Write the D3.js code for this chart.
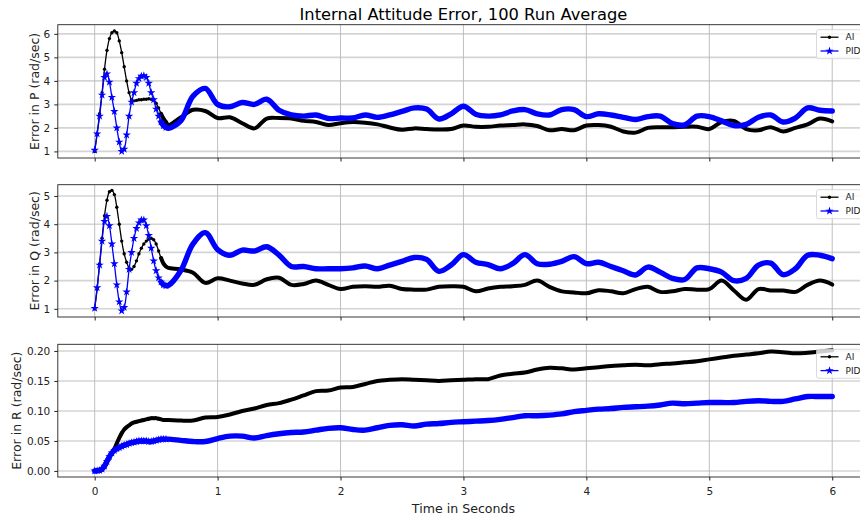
<!DOCTYPE html>
<html lang="en">
<head>
<meta charset="utf-8">
<script src="https://d3js.org/d3.v7.min.js"></script>
<style>
  body { margin: 0; background: #fff; font-family: "DejaVu Sans", sans-serif; }
  svg { display: block; }
</style>
</head>
<body>
<script>
// time stamps (s): fine steps during the start-up swing, then 0.1 s
var t = [0,0.02,0.04,0.06,0.08,0.10,0.12,0.14,0.16,0.18,0.20,0.22,0.24,0.26,0.28,0.30,
  0.32,0.34,0.36,0.38,0.40,0.42,0.44,0.46,0.48,0.50,0.52,0.54,0.56,0.58,0.60,
  0.7,0.8,0.9,1.0,1.1,1.2,1.3,1.4,1.5,1.6,1.7,1.8,1.9,2.0,2.1,2.2,2.3,2.4,2.5,2.6,2.7,2.8,2.9,
  3.0,3.1,3.2,3.3,3.4,3.5,3.6,3.7,3.8,3.9,4.0,4.1,4.2,4.3,4.4,4.5,4.6,4.7,4.8,4.9,
  5.0,5.1,5.2,5.3,5.4,5.5,5.6,5.7,5.8,5.9,6.0];

// error in P
var pAI = [1.0,1.75,2.6,3.5,4.5,5.3,5.8,6.05,6.12,6.05,5.7,5.2,4.6,4.0,3.5,3.2,
  3.15,3.17,3.2,3.2,3.22,3.22,3.24,3.22,3.2,3.05,2.85,2.6,2.4,2.25,2.12,
  2.45,2.77,2.72,2.42,2.45,2.2,1.98,2.4,2.42,2.4,2.3,2.25,2.12,2.2,2.25,2.22,2.15,2.02,1.92,1.98,1.95,1.93,1.95,
  2.1,2.05,2.05,2.1,2.12,2.15,2.08,1.9,1.95,1.9,2.1,2.12,2.05,1.85,1.8,2.0,2.03,2.03,2.05,2.05,
  1.95,2.25,2.3,1.95,1.9,2.03,1.85,2.0,2.15,2.4,2.28];
var pPID = [1.05,1.75,2.5,3.4,4.15,4.3,3.95,3.3,2.7,2.0,1.4,1.0,1.1,1.7,2.5,3.1,
  3.5,3.9,4.1,4.2,4.22,4.15,3.9,3.5,3.2,2.8,2.5,2.25,2.1,2.02,1.98,
  2.3,3.35,3.68,3.0,2.9,3.08,3.0,3.22,2.75,2.55,2.5,2.55,2.4,2.42,2.42,2.55,2.45,2.55,2.7,2.85,2.8,2.38,2.6,
  2.92,2.58,2.5,2.55,2.72,2.78,2.6,2.55,2.78,2.78,2.48,2.6,2.55,2.45,2.36,2.48,2.5,2.18,2.13,2.5,
  2.48,2.3,2.1,2.15,2.45,2.55,2.25,2.42,2.85,2.75,2.72];

// error in Q
var qAI = [1.0,1.7,2.6,3.5,4.3,4.85,5.15,5.2,5.05,4.6,4.0,3.4,2.95,2.65,2.45,2.4,
  2.5,2.7,2.95,3.15,3.3,3.4,3.47,3.5,3.45,3.3,3.05,2.8,2.6,2.5,2.45,
  2.4,2.28,1.92,2.08,2.0,1.9,1.85,2.05,2.1,1.85,1.88,2.0,1.85,1.7,1.78,1.8,1.78,1.82,1.7,1.68,1.68,1.78,1.8,
  1.78,1.62,1.72,1.78,1.8,1.85,2.0,1.78,1.62,1.58,1.55,1.66,1.62,1.55,1.7,1.78,1.6,1.62,1.7,1.68,
  1.7,2.0,1.65,1.32,1.7,1.65,1.65,1.6,1.85,2.0,1.86];
var qPID = [1.02,1.75,2.55,3.4,4.1,4.28,3.95,3.3,2.6,1.85,1.25,0.93,1.05,1.6,2.4,3.0,
  3.5,3.85,4.05,4.15,4.15,3.95,3.6,3.15,2.7,2.35,2.1,1.95,1.85,1.82,1.83,
  2.35,3.3,3.7,3.1,2.9,3.08,3.05,3.2,2.9,2.5,2.5,2.42,2.42,2.42,2.45,2.52,2.42,2.55,2.68,2.82,2.75,2.33,2.55,
  2.92,2.65,2.57,2.42,2.6,2.92,2.6,2.58,2.68,2.85,2.6,2.65,2.5,2.35,2.2,2.48,2.3,2.08,2.04,2.45,
  2.42,2.3,2.0,2.08,2.55,2.62,2.21,2.42,2.9,2.9,2.78];

// error in R
var rAI = [0,0.0005,0.001,0.004,0.010,0.017,0.024,0.030,0.037,0.046,0.055,0.063,0.069,0.073,0.076,0.079,
  0.081,0.082,0.083,0.084,0.085,0.086,0.087,0.088,0.088,0.088,0.087,0.086,0.085,0.085,0.085,
  0.084,0.084,0.089,0.090,0.094,0.100,0.104,0.110,0.113,0.119,0.126,0.133,0.134,0.139,0.140,0.145,0.150,0.152,0.153,0.152,0.151,0.150,0.151,
  0.152,0.153,0.153,0.159,0.162,0.164,0.169,0.172,0.171,0.169,0.171,0.173,0.175,0.176,0.177,0.176,0.178,0.179,0.181,0.183,
  0.186,0.189,0.192,0.194,0.196,0.199,0.198,0.196,0.197,0.199,0.201];
var rPID = [0,0.0005,0.001,0.003,0.008,0.016,0.024,0.030,0.034,0.037,0.039,0.041,0.043,0.044,0.046,0.047,
  0.048,0.049,0.050,0.050,0.050,0.050,0.049,0.049,0.050,0.051,0.052,0.053,0.053,0.053,0.053,
  0.051,0.049,0.049,0.054,0.058,0.058,0.055,0.059,0.062,0.064,0.065,0.068,0.071,0.072,0.069,0.068,0.072,0.076,0.077,0.075,0.078,0.079,0.081,
  0.082,0.083,0.084,0.086,0.089,0.092,0.092,0.093,0.095,0.099,0.101,0.103,0.104,0.106,0.107,0.108,0.110,0.113,0.112,0.113,
  0.114,0.114,0.114,0.116,0.117,0.116,0.116,0.120,0.124,0.124,0.124];

var xTicks = [0,1,2,3,4,5,6];
var pTicks = [1,2,3,4,5,6];
var qTicks = [1,2,3,4,5];
var rTicks = [0,0.05,0.10,0.15,0.20];
var seriesNames = ["AI","PID"];

function draw(){
  var width = 860, height = 515;
  var svg = d3.select("body").append("svg").attr("width", width).attr("height", height);

  //x is shared by the three panels
  var x = d3.scaleLinear().domain([-0.3, 6.3]).range([57.8, 869.1]);

  //band = where the dense markers merge into a thick stroke
  var panels = [
    {label:"Error in P (rad/sec)", ai:pAI, pid:pPID, ticks:pTicks, dom:[0.72, 6.39], top:24.7, bot:158, lx:35, band:0.54, fmt:d3.format("d")},
    {label:"Error in Q (rad/sec)", ai:qAI, pid:qPID, ticks:qTicks, dom:[0.71, 5.40], top:184.7, bot:317, lx:35, band:0.54, fmt:d3.format("d")},
    {label:"Error in R (rad/sec)", ai:rAI, pid:rPID, ticks:rTicks, dom:[-0.0101, 0.2111], top:344.3, bot:477, lx:17, band:0, fmt:d3.format(".2f")}
  ];

  svg.append("text")
    .attr("x", (x.range()[0] + x.range()[1]) / 2).attr("y", 20)
    .attr("text-anchor", "middle").style("font-size", "16.3px").style("fill", "#000")
    .text("Internal Attitude Error, 100 Run Average");

  var clipId = 0;
  panels.forEach(function(p, i){
    var y = d3.scaleLinear().domain(p.dom).range([p.bot, p.top]);
    var g = svg.append("g");
    var x0 = x.range()[0], x1 = x.range()[1];

    clipId++;
    svg.append("clipPath").attr("id", "clip" + clipId)
      .append("rect").attr("x", x0).attr("y", p.top).attr("width", x1 - x0).attr("height", p.bot - p.top);

    //grid
    g.append("g").selectAll("line").data(p.ticks).enter().append("line")
      .attr("x1", x0).attr("x2", x1)
      .attr("y1", function(d){ return y(d); }).attr("y2", function(d){ return y(d); })
      .attr("stroke", "#d4d4d4").attr("stroke-width", 1.6);
    g.append("g").selectAll("line").data(xTicks).enter().append("line")
      .attr("y1", p.top).attr("y2", p.bot)
      .attr("x1", function(d){ return x(d); }).attr("x2", function(d){ return x(d); })
      .attr("stroke", "#b8b8b8").attr("stroke-width", 0.9);

    //lines
    var pts = function(vals){ return t.map(function(tt, k){ return [tt, vals[k]]; }); };
    var line = d3.line().x(function(d){ return x(d[0]); }).y(function(d){ return y(d[1]); })
      .curve(d3.curveCatmullRom.alpha(0.5));
    var plot = g.append("g").attr("clip-path", "url(#clip" + clipId + ")");
    var sets = [{vals:p.ai, color:"#000000", band:4, sym:d3.symbolCircle, size:9},
                {vals:p.pid, color:"#0000ff", band:5.4, sym:d3.symbolStar, size:22}];
    sets.forEach(function(s){
      var d = pts(s.vals);
      plot.append("path").attr("d", line(d)).attr("fill", "none")
        .attr("stroke", s.color).attr("stroke-width", 1.3);
      plot.append("path").attr("d", line(d.filter(function(e){ return e[0] >= p.band; })))
        .attr("fill", "none").attr("stroke", s.color).attr("stroke-width", s.band)
        .attr("stroke-linecap", "round").attr("stroke-linejoin", "round");
      plot.append("g").selectAll("path").data(d.filter(function(e){ return e[0] < 0.6; }))
        .enter().append("path")
        .attr("transform", function(e){ return "translate(" + x(e[0]) + "," + y(e[1]) + ")"; })
        .attr("d", d3.symbol().type(s.sym).size(s.size))
        .attr("fill", s.color);
    });

    //frame
    g.append("rect").attr("x", x0).attr("y", p.top).attr("width", x1 - x0).attr("height", p.bot - p.top)
      .attr("fill", "none").attr("stroke", "#222").attr("stroke-width", 0.9);

    //axes
    var ax = d3.axisLeft(y).tickValues(p.ticks).tickFormat(p.fmt).tickSize(3.5).tickPadding(4);
    var ag = g.append("g").attr("transform", "translate(" + x0 + ",0)").call(ax);
    ag.select(".domain").remove();
    ag.selectAll("text").style("font-size", "10.5px").style("font-family", "DejaVu Sans").attr("fill", "#222");
    ag.selectAll("line").attr("stroke", "#222");

    var bx = d3.axisBottom(x).tickValues(xTicks).tickSize(3.5).tickPadding(7.5)
      .tickFormat(i === 2 ? d3.format("d") : function(){ return ""; });
    var bg = g.append("g").attr("transform", "translate(0," + p.bot + ")").call(bx);
    bg.select(".domain").remove();
    bg.selectAll("text").style("font-size", "10.5px").style("font-family", "DejaVu Sans").attr("fill", "#222");
    bg.selectAll("line").attr("stroke", "#222");

    //y label
    g.append("text")
      .attr("transform", "translate(" + p.lx + "," + ((p.top + p.bot) / 2) + ") rotate(-90)")
      .attr("text-anchor", "middle").attr("dy", "0.35em").style("font-size", "12.5px").attr("fill", "#222")
      .text(p.label);

    //legend
    var lx = 816.5, ly = p.top + 5;
    var leg = g.append("g");
    leg.append("rect").attr("x", lx).attr("y", ly).attr("width", 70).attr("height", 29).attr("rx", 2)
      .attr("fill", "#fff").attr("fill-opacity", 0.8).attr("stroke", "#d0d0d0").attr("stroke-width", 0.8);
    sets.forEach(function(s, k){
      var yy = ly + 7.5 + k * 13.8;
      leg.append("line").attr("x1", lx + 4).attr("x2", lx + 22).attr("y1", yy).attr("y2", yy)
        .attr("stroke", s.color).attr("stroke-width", 1.3);
      leg.append("path").attr("transform", "translate(" + (lx + 13) + "," + yy + ")")
        .attr("d", d3.symbol().type(s.sym).size(s.size)).attr("fill", s.color);
      leg.append("text").attr("x", lx + 29).attr("y", yy).attr("dy", "0.35em")
        .style("font-size", "9px").attr("fill", "#222").text(seriesNames[k]);
    });
  });

  svg.append("text")
    .attr("x", (x.range()[0] + x.range()[1]) / 2).attr("y", 512.5)
    .attr("text-anchor", "middle").style("font-size", "12.6px").attr("fill", "#222")
    .text("Time in Seconds");
}
draw();
</script>
</body>
</html>
